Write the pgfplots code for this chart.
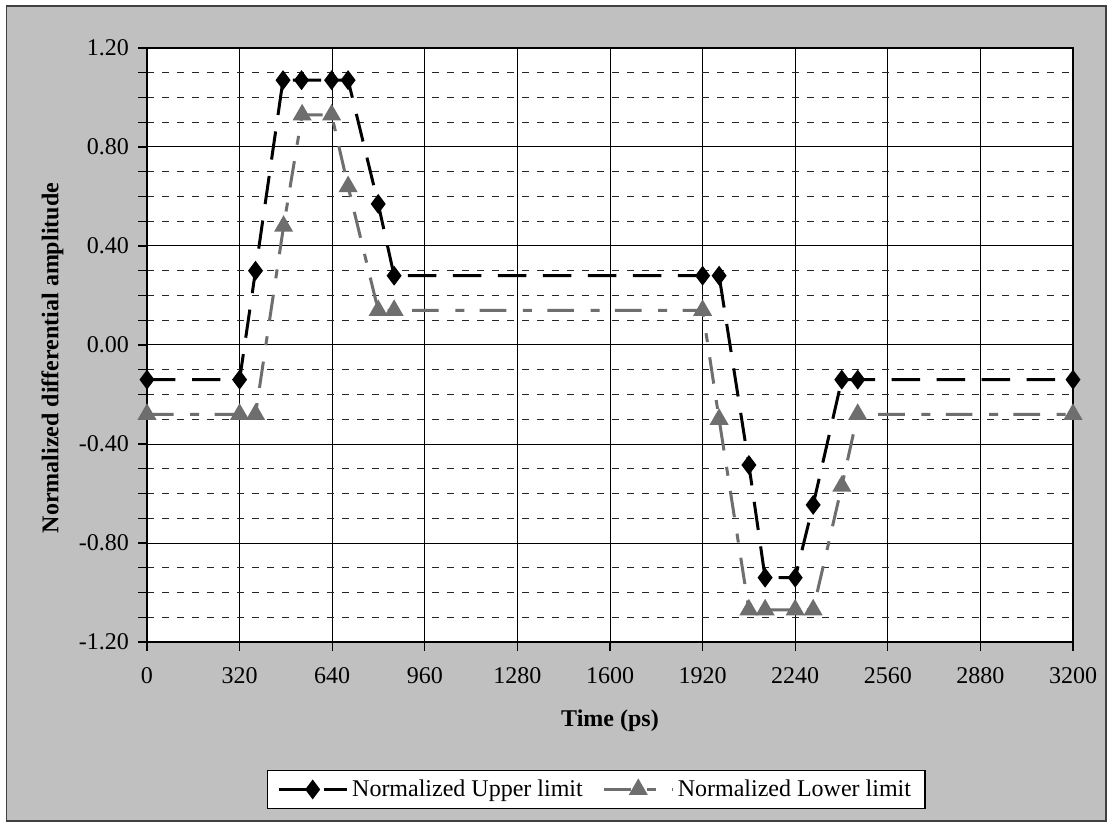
\documentclass[border=0pt]{standalone}
\usepackage{pgfplots}
\pgfplotsset{compat=1.18}
\usepackage{fontspec}
\setmainfont{Liberation Serif}
\definecolor{bggray}{RGB}{192,192,192}
\definecolor{lowgray}{RGB}{110,110,110}
\begin{document}
\begin{tikzpicture}
\path (-73.5pt,-91pt) rectangle (482.5pt,321pt);
\draw[fill=bggray, draw=black!75, line width=0.7pt] (-70.25pt,-89.5pt) rectangle (479.5pt,318pt);
\begin{axis}[
  scale only axis, width=463pt, height=297pt,
  xmin=0, xmax=3200, ymin=-1.2, ymax=1.2,
  axis background/.style={fill=white},
  xtick={0,320,640,960,1280,1600,1920,2240,2560,2880,3200},
  xticklabels={0,320,640,960,1280,1600,1920,2240,2560,2880,3200},
  ytick={-1.2,-0.8,-0.4,0,0.4,0.8,1.2},
  yticklabels={-1.20,-0.80,-0.40,0.00,0.40,0.80,1.20},
  minor ytick={-1.1,-1.0,-0.9,-0.7,-0.6,-0.5,-0.3,-0.2,-0.1,0.1,0.2,0.3,0.5,0.6,0.7,0.9,1.0,1.1},
  grid=both,
  major grid style={black, line width=0.5pt, solid},
  minor grid style={black!85, line width=0.5pt, dash pattern=on 3.5pt off 4pt},
  axis line style={black, line width=0.9pt},
  tick align=outside,
  xtick pos=left, ytick pos=left,
  major tick length=4.5pt, minor tick length=4.5pt,
  every tick/.style={black, line width=0.6pt},
  tick label style={font=\fontsize{12}{14}\selectfont},
  xticklabel style={yshift=-4.5pt},
  yticklabel style={xshift=-1pt},
  xlabel={\textbf{Time (ps)}},
  ylabel={\textbf{Normalized differential amplitude}},
  label style={font=\fontsize{12}{14}\selectfont},
  xlabel style={at={(axis description cs:0.5,-0.1330)}, anchor=center},
  ylabel style={at={(axis description cs:-0.1020,0.478)}, anchor=center},
  legend style={at={(axis description cs:0.485,-0.2155)}, anchor=north,
    legend columns=2, draw=black, fill=white, line width=0.6pt,
    font=\fontsize{12}{14}\selectfont, inner ysep=2.5pt, inner xsep=5pt,
    /tikz/every even column/.append style={column sep=8pt}},
  legend image code/.code={
    \draw[mark repeat=2,mark phase=2,#1] plot coordinates {(0pt,0pt) (17pt,0pt) (34pt,0pt)};
  },
  clip=false,
]
\addplot[black, line width=1.5pt, dash pattern=on 14.2pt off 8.3pt,
  mark=diamond*, mark size=3.75pt, mark options={solid, fill=black}]
coordinates {
(0,-0.14) (320,-0.14) (375,0.30) (470,1.07) (534,1.07) (638,1.07) (695,1.07)
(799,0.57) (854,0.28) (1920,0.28) (1977,0.28) (2080,-0.485) (2136,-0.94)
(2240,-0.94) (2302,-0.646) (2401,-0.14) (2456,-0.14) (3200,-0.14)
};
\addlegendentry{Normalized Upper limit}
\addplot[lowgray, line width=1.5pt, dash pattern=on 13.3pt off 8.3pt on 4.5pt off 7.7pt,
  mark=triangle*, mark size=4pt, mark options={solid, fill=lowgray}]
coordinates {
(0,-0.28) (320,-0.28) (375,-0.28) (472,0.48) (536,0.93) (638,0.93) (695,0.64)
(799,0.14) (854,0.14) (1920,0.14) (1977,-0.30) (2080,-1.07) (2136,-1.07)
(2240,-1.07) (2302,-1.07) (2401,-0.57) (2456,-0.28) (3200,-0.28)
};
\addlegendentry{Normalized Lower limit}
\end{axis}
\end{tikzpicture}
\end{document}
